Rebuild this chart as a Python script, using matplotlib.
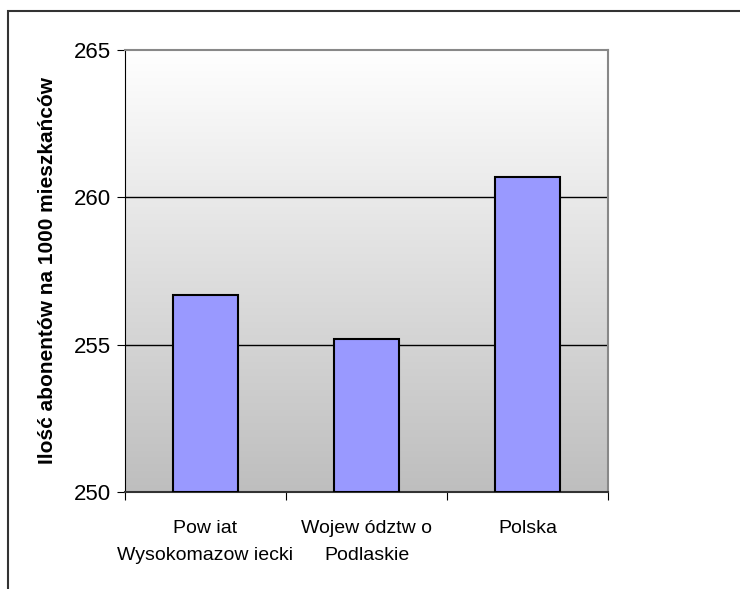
import matplotlib.pyplot as plt
import matplotlib.patches as mpatches
from matplotlib.colors import LinearSegmentedColormap
import numpy as np

plt.rcParams['font.family'] = ['Liberation Sans', 'DejaVu Sans']

categories = ['Pow iat\nWysokomazow iecki', 'Wojew ództw o\nPodlaskie', 'Polska']
values = [256.7, 255.2, 260.7]
y_ticks = [250, 255, 260, 265]

fig = plt.figure(figsize=(7.4, 5.89), dpi=100)
W, H = 740, 589

# outer chart frame (clipped at right/bottom like the reference)
fig.patches.append(mpatches.Rectangle((8 / W, -0.1), 1.2, 1 - 11 / H + 0.1,
                                      transform=fig.transFigure, fill=False,
                                      edgecolor='#333333', linewidth=1.5))

ax = fig.add_axes([125 / W, 1 - 492 / H, (608 - 125) / W, (492 - 50) / H])

# gradient background, white at top to grey at bottom
grad = np.linspace(0, 1, 256).reshape(-1, 1)
bg = LinearSegmentedColormap.from_list('bg', ['#FFFFFF', '#BEBEBE'])
ax.imshow(grad, extent=[0, 1, 0, 1], transform=ax.transAxes, aspect='auto',
          cmap=bg, vmin=0, vmax=1, zorder=0)

x = np.arange(len(categories))
ax.bar(x, [v - 250 for v in values], bottom=250, width=0.4,
       color='#9999FF', edgecolor='black', linewidth=1.5, zorder=3)

ax.set_xlim(-0.5, 2.5)
ax.set_ylim(250, 265)
ax.set_yticks(y_ticks)
ax.set_yticklabels([str(t) for t in y_ticks], fontsize=16)
for t in y_ticks[1:3]:
    ax.axhline(t, color='black', linewidth=1, zorder=1)

ax.set_xticks([-0.5, 0.5, 1.5, 2.5])
ax.set_xticklabels([])
ax.set_xticks(x, minor=True)
ax.set_xticklabels(categories, minor=True, fontsize=14, linespacing=1.8)
ax.tick_params(axis='x', which='minor', length=0, pad=20)
ax.tick_params(axis='x', which='major', length=6, direction='out')
ax.tick_params(axis='y', length=6, direction='out', pad=4)

for side in ['top', 'right']:
    ax.spines[side].set_color('#888888')
    ax.spines[side].set_linewidth(1.5)
ax.spines['left'].set_color('black')
ax.spines['bottom'].set_color('#333333')
ax.spines['bottom'].set_linewidth(1.5)

ax.set_ylabel('Ilość abonentów na 1000 mieszkańców', fontsize=15,
              fontweight='bold', labelpad=12)

fig.savefig('out.png', dpi=100)
